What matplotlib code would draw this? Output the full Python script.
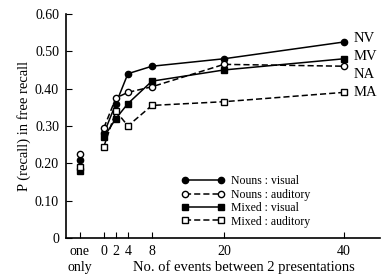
import matplotlib
matplotlib.use('Agg')
import matplotlib.pyplot as plt

plt.rcParams['font.family'] = ['Liberation Serif', 'DejaVu Serif']

# lag between two presentations; "one only" plotted at -4
lags = [0, 2, 4, 8, 20, 40]
one_x = -4

nv = [0.28, 0.36, 0.44, 0.46, 0.48, 0.525]
na = [0.295, 0.375, 0.39, 0.405, 0.465, 0.46]
mv = [0.27, 0.32, 0.36, 0.42, 0.45, 0.48]
ma = [0.245, 0.34, 0.30, 0.355, 0.365, 0.39]

one_only = {'nv': 0.21, 'na': 0.225, 'mv': 0.18, 'ma': 0.19}

xticks = [-4, 0, 2, 4, 8, 20, 40]
xticklabels = ['one\nonly', '0', '2', '4', '8', '20', '40']
yticks = [0, 0.1, 0.2, 0.3, 0.4, 0.5, 0.6]
yticklabels = ['0', '0.10', '0.20', '0.30', '0.40', '0.50', '0.60']

end_labels = ['NV', 'MV', 'NA', 'MA']
end_label_y = [0.533, 0.485, 0.437, 0.389]

fig = plt.figure(figsize=(3.84, 2.79), dpi=100)
ax = fig.add_axes([0.172, 0.147, 0.818, 0.803])

kw = dict(color='black', markersize=4.5, lw=1.1)
ax.plot(lags, nv, marker='o', ls='-', mfc='black', label='Nouns : visual', **kw)
ax.plot(lags, na, marker='o', ls=(0, (4, 2)), mfc='white', label='Nouns : auditory', **kw)
ax.plot(lags, mv, marker='s', ls='-', mfc='black', label='Mixed : visual', **kw)
ax.plot(lags, ma, marker='s', ls=(0, (4, 2)), mfc='white', label='Mixed : auditory', **kw)

# single presentation points
ax.plot([one_x], [one_only['mv']], marker='s', color='black', mfc='black', markersize=4.5)
ax.plot([one_x], [one_only['ma']], marker='s', color='black', mfc='white', markersize=4.5)
ax.plot([one_x], [one_only['nv']], marker='o', color='black', mfc='black', markersize=4.5)
ax.plot([one_x], [one_only['na']], marker='o', color='black', mfc='white', markersize=4.5)

for lab, yy in zip(end_labels, end_label_y):
    ax.text(41.5, yy, lab, fontsize=10.5, va='center', ha='left')

ax.set_xlim(-6.3, 46)
ax.set_ylim(0, 0.6)
ax.set_xticks(xticks)
ax.set_xticklabels(xticklabels, fontsize=10, linespacing=1.3)
ax.set_yticks(yticks)
ax.set_yticklabels(yticklabels, fontsize=10)
ax.tick_params(direction='in', length=4, width=0.8, pad=5)
ax.spines['top'].set_visible(False)
ax.spines['right'].set_visible(False)
ax.spines['left'].set_linewidth(1.2)
ax.spines['bottom'].set_linewidth(1.2)

ax.set_ylabel('P (recall) in free recall', fontsize=10.5, labelpad=3)
ax.set_xlabel('No. of events between 2 presentations', fontsize=10.5)
ax.xaxis.set_label_coords(0.565, -0.1)

leg = ax.legend(loc='lower left', bbox_to_anchor=(0.35, 0.02), frameon=False,
                fontsize=8.5, handlelength=3.6, handletextpad=0.6, numpoints=2,
                labelspacing=0.12, borderpad=0)

fig.savefig('out.png', dpi=100)
